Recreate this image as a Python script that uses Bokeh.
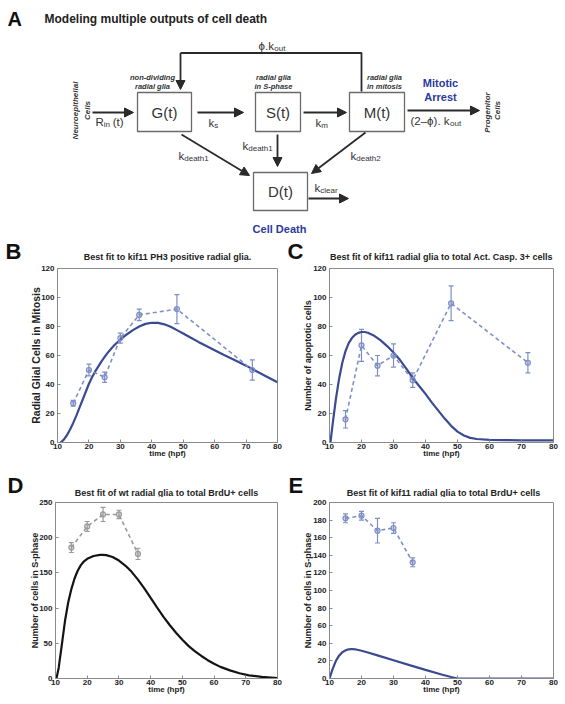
import math
from bokeh.plotting import figure
from bokeh.models import (Range1d, ColumnDataSource, Whisker, TeeHead,
                          Arrow, NormalHead, FixedTicker)
from bokeh.layouts import column, row
from bokeh.embed import file_html
from bokeh.resources import INLINE
from bokeh.core.properties import value

FONT = "Liberation Sans"

# ---------------- data ----------------
time_ticks = [10, 20, 30, 40, 50, 60, 70, 80]

# Panel B: kif11 PH3 positive radial glia
b_time = [15, 20, 25, 30, 36, 48, 72]
b_mean = [27, 50, 45, 72, 88, 92, 50]
b_err = [2, 4, 3.5, 3.5, 4, 10, 7]
b_fit_t = [11, 12, 13, 14, 15, 16, 17, 18, 19, 20, 21, 22, 23, 24, 25, 26, 27, 28, 29, 30,
           32, 34, 36, 38, 40, 42, 44, 46, 48, 50, 52, 55, 58, 60, 63, 66, 70, 73, 76, 80]
b_fit_y = [0, 2, 5, 9, 13.5, 18.5, 24, 29.5, 35, 40.5, 45, 49, 52.5, 56, 59, 62, 64.5, 67, 69, 71,
           74.5, 77.5, 80, 81.8, 82.6, 82.5, 81.5, 79.8, 77.5, 75.2, 72.8, 69.2, 65.8, 63.6, 60.3, 57.2, 53, 49.5, 46, 41.5]

# Panel C: kif11 radial glia vs Act. Casp. 3+ cells
c_time = [15, 20, 25, 30, 36, 48, 72]
c_mean = [16, 67, 53, 60, 43, 96, 55]
c_err = [6, 11, 7, 8, 5, 12, 7]
c_fit_t = [10.3, 11, 12, 13, 14, 15, 16, 17, 18, 19, 20, 21, 22, 24, 26, 28, 30, 32, 34, 36,
           38, 40, 42, 44, 46, 48, 50, 52, 54, 56, 60, 65, 70, 80]
c_fit_y = [0, 13, 30, 44, 55, 63, 68.5, 72, 74.3, 75.6, 76.2, 76.2, 75.7, 73.6, 70.4, 66.5, 62, 57, 51, 44.5,
           39, 33.5, 27.5, 22, 16.5, 11.5, 7.5, 4.8, 3.2, 2.4, 1.8, 1.6, 1.5, 1.5]

# Panel D: wt radial glia vs BrdU+ cells
d_time = [15, 20, 25, 30, 36]
d_mean = [186, 216, 233, 233, 177]
d_err = [7, 7, 10, 6, 8]
d_fit_t = [10.3, 11, 12, 13, 14, 15, 16, 17, 18, 19, 20, 22, 24, 25, 26, 28, 30, 32, 34, 36,
           38, 40, 42, 44, 46, 48, 50, 52, 54, 56, 58, 60, 62, 65, 68, 71, 75, 80]
d_fit_y = [0, 15, 48, 82, 108, 127, 142, 153, 161, 166.5, 170, 174, 175.5, 175.6, 175.2, 172.5, 167.5, 160.5, 151.5, 140.5,
           128, 114.5, 101, 88, 76, 65, 55, 46, 38.5, 32, 26, 21, 16.5, 11.5, 7.5, 4.5, 2.2, 0.5]

# Panel E: kif11 radial glia vs BrdU+ cells
e_time = [15, 20, 25, 30, 36]
e_mean = [182, 185, 168, 171, 132]
e_err = [5, 5, 14, 6, 5]
e_fit_t = [10, 11, 12, 13, 14, 15, 16, 17, 18, 20, 22, 25, 30, 35, 40, 45, 48, 50, 80]
e_fit_y = [0, 11, 20, 26, 29.8, 32, 33.2, 33.5, 33.2, 31.5, 29.5, 26.3, 20.8, 15.2, 9.8, 4.6, 1.7, 0, 0]

panel_letters = ["B", "C", "D", "E"]
panel_titles = ["Best fit to kif11 PH3 positive radial glia.",
                "Best fit of kif11 radial glia to total Act. Casp. 3+ cells",
                "Best fit of wt radial glia to total BrdU+ cells",
                "Best fit of kif11 radial glia to total BrdU+ cells"]

BLUE_FIT = "#3b4b92"
BLUE_DATA = "#7f8fc6"
GREY_DATA = "#9a9a9a"
BLACK_FIT = "#141414"
PAGE_W = 561


def make_panel(ylabel, ylabel_size, ymax, ystep, t, m, err, ft, fy, data_color, fit_color,
               fw, fh, lb, rb, tb, bb, ylab_standoff):
    p = figure(frame_width=fw, frame_height=fh,
               x_range=Range1d(10, 80), y_range=Range1d(0, ymax),
               min_border_left=lb, min_border_right=rb,
               min_border_top=tb, min_border_bottom=bb,
               output_backend="svg", toolbar_location=None)
    p.xgrid.visible = False
    p.ygrid.visible = False
    p.outline_line_color = "#8a8a8a"
    p.outline_line_width = 1
    p.xaxis.ticker = FixedTicker(ticks=time_ticks)
    p.yaxis.ticker = FixedTicker(ticks=list(range(0, ymax + 1, ystep)))
    for ax in (p.xaxis[0], p.yaxis[0]):
        ax.axis_line_color = "#8a8a8a"
        ax.major_tick_line_color = "#8a8a8a"
        ax.major_tick_in = 3
        ax.major_tick_out = 0
        ax.minor_tick_line_color = None
        ax.major_label_text_font = FONT
        ax.major_label_text_font_style = "bold"
        ax.major_label_text_font_size = "8px"
        ax.major_label_text_color = "#222222"
        ax.axis_label_text_font = FONT
        ax.axis_label_text_font_style = "bold"
        ax.axis_label_text_color = "#222222"
    p.xaxis.major_label_standoff = 1
    p.yaxis.major_label_standoff = 3
    p.xaxis.axis_label = "time (hpf)"
    p.xaxis.axis_label_text_font_size = "8px"
    p.xaxis.axis_label_standoff = -3
    p.yaxis.axis_label = ylabel
    p.yaxis.axis_label_text_font_size = ylabel_size
    p.yaxis.axis_label_standoff = ylab_standoff

    p.line(ft, fy, line_color=fit_color, line_width=2.2)
    src = ColumnDataSource(dict(t=t, m=m,
                                lo=[a - b for a, b in zip(m, err)],
                                hi=[a + b for a, b in zip(m, err)]))
    p.line("t", "m", source=src, line_color=data_color, line_width=1.6, line_dash="4 3")
    p.add_layout(Whisker(base="t", lower="lo", upper="hi", source=src,
                         line_color=data_color, line_width=1.2,
                         upper_head=TeeHead(size=5, line_color=data_color, line_width=1.2),
                         lower_head=TeeHead(size=5, line_color=data_color, line_width=1.2)))
    p.scatter("t", "m", source=src, marker="circle", size=5,
              line_color=data_color, fill_color=data_color, fill_alpha=0.35, line_width=1.2)
    return p


# page rows: A strip 0..263, row 1 263..460 (frame 268..442), strip 460..497, row 2 497.. (frame 502..678)
pB = make_panel("Radial Glial Cells in Mitosis", "10.5px", 120, 20,
                b_time, b_mean, b_err, b_fit_t, b_fit_y, BLUE_DATA, BLUE_FIT,
                220, 174, 57, 13, 5, 18, -4)
pC = make_panel("Number of apoptotic cells", "9px", 120, 20,
                c_time, c_mean, c_err, c_fit_t, c_fit_y, BLUE_DATA, BLUE_FIT,
                224, 174, 39, 8, 5, 18, -3)
pD = make_panel("Number of cells in S-phase", "9px", 250, 50,
                d_time, d_mean, d_err, d_fit_t, d_fit_y, GREY_DATA, BLACK_FIT,
                222, 176, 55, 13, 5, 20, -4)
pE = make_panel("Number of cells in S-phase", "9px", 200, 20,
                e_time, e_mean, e_err, e_fit_t, e_fit_y, BLUE_DATA, BLUE_FIT,
                224, 176, 39, 8, 5, 20, -3)


def strip(y0, y1):
    s = figure(width=PAGE_W, height=y1 - y0, x_range=Range1d(0, PAGE_W), y_range=Range1d(y1, y0),
               min_border=0, output_backend="svg", toolbar_location=None)
    s.xaxis.visible = False
    s.yaxis.visible = False
    s.xgrid.visible = False
    s.ygrid.visible = False
    s.outline_line_color = None
    return s


def txt(fig, x, y, text, size, style="normal", color="#333333", align="left", angle=None,
        baseline="middle"):
    kw = dict(x=x, y=y, text=text, text_font=value(FONT), text_font_size=size,
              text_font_style=style, text_color=color, text_align=align,
              text_baseline=baseline)
    if angle is not None:
        kw["angle"] = angle
    fig.text(**kw)


def heading(fig, letters, lx, ly, titles, tx, ty):
    txt(fig, lx, ly, letters, "22px", "bold", "#111111", baseline="bottom")
    txt(fig, tx, ty, titles, "9px", "bold", "#222222", "center", baseline="bottom")


# ---------------- diagram (panel A) ----------------
pA = strip(0, 263)

box_names = ["G(t)", "S(t)", "M(t)", "D(t)"]
box_left = [137, 255, 349, 253]
box_right = [191, 300, 404, 307]
box_top = [92, 92, 92, 172]
box_bottom = [131, 131, 131, 210]

pA.quad(left=box_left, right=box_right, top=box_top, bottom=box_bottom,
        fill_color="white", line_color="#6a6a6a", line_width=1.3)
txt(pA, [(l + r) / 2 for l, r in zip(box_left, box_right)],
    [(t + b) / 2 for t, b in zip(box_top, box_bottom)], box_names, "15px", align="center")

INK = "#2a2a2a"


def arrow(x0, y0, x1, y1):
    pA.add_layout(Arrow(end=NormalHead(size=9, fill_color=INK, line_color=INK, line_width=1),
                        x_start=x0, y_start=y0, x_end=x1, y_end=y1,
                        line_color=INK, line_width=1.8))


arrow(92, 112, 133, 112)
arrow(197, 112, 243, 112)
arrow(303, 112, 346, 112)
arrow(407, 110, 479, 110)
arrow(181, 134, 249, 175)
arrow(277, 134, 277, 166)
arrow(365, 132, 311, 173)
arrow(308, 198, 348, 198)
pA.line([361, 361, 180], [91, 52.5, 52.5], line_color=INK, line_width=1.8)
arrow(180, 52.5, 180, 89)

# character widths (Liberation Sans regular, per em)
CW = {"k": .5, "R": .722, "(": .333, ")": .333, "t": .278, ".": .278, " ": .278,
      "2": .556, "-": .333, "–": .556, "ϕ": .6}


def tw(s, size):
    return sum(CW.get(c, .556) for c in s) * size


def sub_text(x, y, main, sub, tail="", size=11.5, subsize=8):
    txt(pA, [x], [y], [main], f"{size}px")
    x2 = x + tw(main, size)
    txt(pA, [x2], [y + 2.5], [sub], f"{subsize}px")
    if tail:
        txt(pA, [x2 + tw(sub, subsize)], [y], [tail], f"{size}px")


sub_text(258, 45, "ϕ.k", "out")
sub_text(95, 121.5, "R", "in", "(t)")
sub_text(208, 122.5, "k", "s")
sub_text(315, 122.5, "k", "m")
sub_text(410, 120.5, "(2–ϕ). k", "out")
sub_text(242, 145, "k", "death1")
sub_text(178, 155.5, "k", "death1")
sub_text(350, 155, "k", "death2")
sub_text(314, 187.5, "k", "clear")

# small italic captions above the boxes
cap_x = [152, 152, 273, 273, 384, 384]
cap_y = [77, 86, 77, 86, 77, 86]
cap_text = ["non-dividing", "radial glia", "radial glia", "in S-phase", "radial glia", "in mitosis"]
txt(pA, cap_x, cap_y, cap_text, "7.5px", "bold italic", align="center")

# blue annotations
txt(pA, [440, 440, 279], [82, 96, 228], ["Mitotic", "Arrest", "Cell Death"],
    "11px", "bold", "#2b3a9c", "center")

# rotated source / sink labels
txt(pA, [75, 86.5, 487, 497], [110, 110, 112, 110],
    ["Neuroepithelial", "Cells", "Progenitor", "Cells"], "8px", "bold italic",
    align="center", angle=[math.pi / 2] * 4)

# heading of panel A
txt(pA, [7], [18], ["A"], "20px", "bold", "#111111")
txt(pA, [44], [18], ["Modeling multiple outputs of cell death"], "12px", "bold", "#222222")

# headings of panels B and C (bottom of the top strip)
heading(pA, panel_letters[:2], [5, 287], [263, 263], panel_titles[:2], [167, 441], [261, 261])

# headings of panels D and E
pS = strip(460, 497)
heading(pS, panel_letters[2:], [7, 288], [497, 497], panel_titles[2:], [166, 443], [497, 497])

layout = column(pA, row(pB, pC), pS, row(pD, pE))
open("out.html", "w").write(file_html(layout, INLINE))
